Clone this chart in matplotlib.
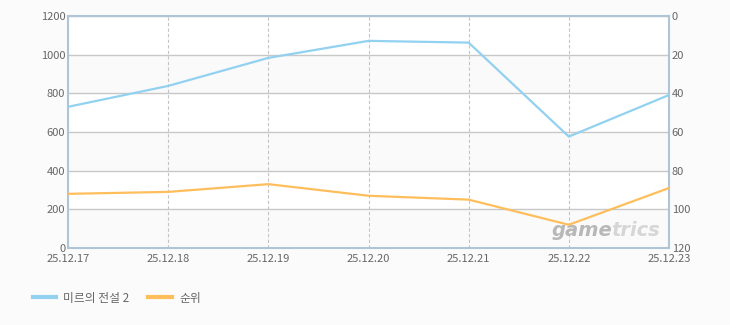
import matplotlib.pyplot as plt

plt.rcParams['font.family'] = ['Noto Sans CJK KR', 'DejaVu Sans']

dates = ["25.12.17", "25.12.18", "25.12.19", "25.12.20", "25.12.21", "25.12.22", "25.12.23"]
users = [730, 838, 983, 1071, 1062, 576, 791]
rank = [92, 91, 87, 93, 95, 108, 89]

blue = "#92d1f0"
orange = "#ffbe5c"
text_color = "#666666"

fig = plt.figure(figsize=(7.3, 3.25), dpi=100)
fig.patch.set_facecolor("#fbfbfb")

ax = fig.add_axes([0.0932, 0.237, 0.8232, 0.714])
ax.set_facecolor("white")
x = list(range(len(dates)))

# alternating bands
for i, lo in enumerate(range(0, 1200, 200)):
    if i % 2 == 0:
        ax.axhspan(lo, lo + 200, color="#fafafa", zorder=0)

ax.set_xlim(0, len(dates) - 1)
ax.set_ylim(0, 1200)
ax.set_yticks(range(0, 1201, 200))
ax.set_xticks(x)
ax.set_xticklabels(dates)
ax.grid(axis="y", color="#c8c8c8", linewidth=1, linestyle="-")
ax.grid(axis="x", color="#c4c4c4", linewidth=0.8, linestyle=(0, (3, 2)))
ax.set_axisbelow(True)
ax.tick_params(axis="y", length=0, labelsize=8, colors=text_color, pad=2)
ax.tick_params(axis="x", length=0, labelsize=8, colors=text_color, pad=4.5)
for s in ax.spines.values():
    s.set_color("#b0c4d8")
    s.set_linewidth(1.5)

ln1, = ax.plot(x, users, color=blue, linewidth=1.6, zorder=3)

ax2 = ax.twinx()
ax2.set_ylim(120, 0)
ax2.set_yticks(range(0, 121, 20))
ax2.tick_params(length=0, labelsize=8, colors=text_color, pad=2)
for s in ax2.spines.values():
    s.set_visible(False)
ln2, = ax2.plot(x, rank, color=orange, linewidth=1.6, zorder=3)

# watermark
ax.text(0.805, 0.075, "game", transform=ax.transAxes, fontsize=14, fontweight="bold",
        style="italic", color="#b8b8b8", family="DejaVu Sans", ha="left", va="center")
ax.text(0.903, 0.075, "trics", transform=ax.transAxes, fontsize=14, fontweight="bold",
        style="italic", color="#d6d6d6", family="DejaVu Sans", ha="left", va="center")

fig.legend([ln1, ln2], ["미르의 전설 2", "순위"], loc="lower left",
           bbox_to_anchor=(0.03, 0.03), ncol=2, frameon=False, fontsize=8.5,
           labelcolor=text_color, handlelength=2.0, handletextpad=0.6,
           columnspacing=1.6)
for line in fig.legends[0].get_lines():
    line.set_linewidth(3)

fig.savefig("out.png", dpi=100, facecolor=fig.get_facecolor())
